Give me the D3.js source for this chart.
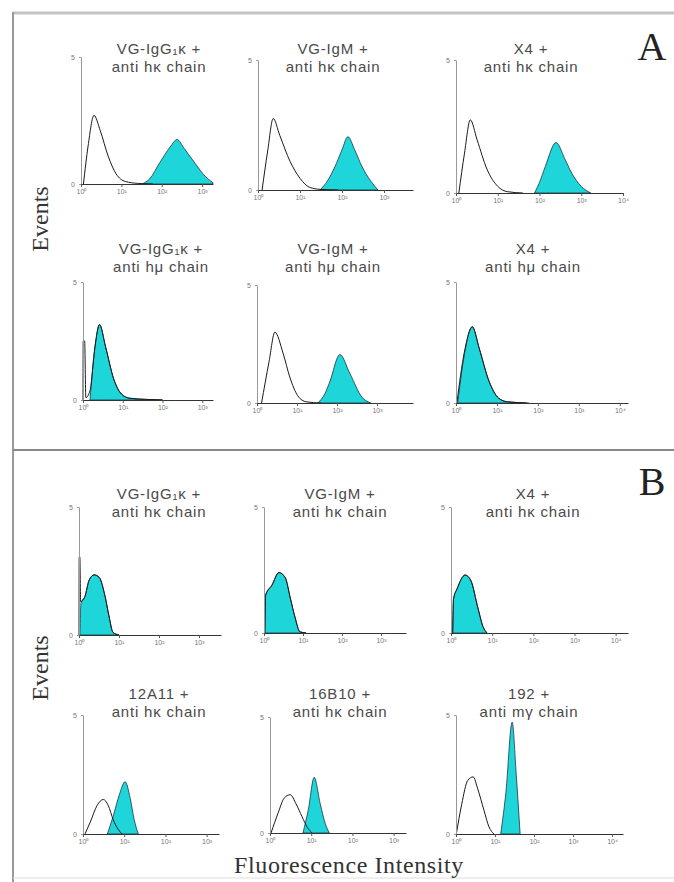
<!DOCTYPE html>
<html>
<head>
<meta charset="utf-8">
<title>Flow cytometry histograms</title>
<script src="https://cdn.jsdelivr.net/npm/d3@7"></script>
<style>
  body { margin: 0; background: #fff; }
</style>
</head>
<body>
<svg width="674" height="882" font-family="'Liberation Sans', Arial, sans-serif"></svg>
<script>
// ---- data ----
const titleLine1 = ["VG-IgG₁κ +", "VG-IgM +", "X4 +",
                    "VG-IgG₁κ +", "VG-IgM +", "X4 +",
                    "VG-IgG₁κ +", "VG-IgM +", "X4 +",
                    "12A11 +", "16B10 +", "192 +"];
const titleLine2 = ["anti hκ chain", "anti hκ chain", "anti hκ chain",
                    "anti hμ chain", "anti hμ chain", "anti hμ chain",
                    "anti hκ chain", "anti hκ chain", "anti hκ chain",
                    "anti hκ chain", "anti hκ chain", "anti mγ chain"];
const decades = [1, 10, 100, 1000, 10000];
const tickLabels = ["10⁰", "10¹", "10²", "10³", "10⁴"];
const tickCount = [4, 4, 5, 4, 4, 5, 4, 4, 5, 4, 4, 5];
const xMaxExp = [3.27, 3.69, 4.0, 3.27, 3.9, 4.2, 3.55, 3.64, 4.3, 3.3, 3.3, 4.28];
const yTickLabels = ["0", "5"];

// [intensity, events (% of full scale)]
const a1Open = [[1.15,0],[1.5,30],[2.1,54],[3,42],[4.7,22],[7.4,8],[12.5,2],[25,0.5],[60,0]];
const a1Stained = [[33,0],[50,4],[90,17],[160,29],[240,35],[360,28],[680,16],[1200,6],[1860,1]];
const a2Open = [[1.25,0],[1.7,30],[2.3,55],[3.3,42],[5.8,22],[10,9],[17,2],[30,0.5],[80,0]];
const a2Stained = [[30,0],[45,7],[68,18],[100,31],[138,41],[200,31],[300,18],[480,7],[720,0]];
const a3Open = [[1.17,0],[1.6,30],[2.2,55],[3.2,40],[5.5,18],[10,5],[17,1],[40,0]];
const a3Stained = [[76,0],[100,8],[138,20],[250,38],[400,26],[590,15],[1000,5],[1700,0]];
const a4Open = [[1,0],[1.01,50],[1.1,50],[1.18,2],[1.5,8],[2,45],[2.6,64],[3.7,45],[5.9,18],[9.3,5],[15,1.5],[40,0.5],[100,0]];
const a4Stained = [[1.5,0],[2,45],[2.6,64],[3.7,45],[5.9,18],[9.3,5],[15,1.5],[40,0.5],[100,0]];
const a5Open = [[1.3,0],[2,35],[2.8,60],[4.5,42],[6.6,22],[10.5,6],[17,1],[40,0]];
const a5Stained = [[33,0],[50,8],[66,18],[118,41],[210,25],[420,5],[700,0]];
const a6Open = [[1.05,0],[1.6,42],[2.5,63],[3.7,45],[6.4,18],[11,4],[18,1],[60,0]];
const a6Stained = [[1.1,0],[1.6,40],[2.5,63],[3.7,45],[6.4,18],[11,4],[18,1],[50,0]];
const b1Open = [[1,0],[1.01,61],[1.05,61],[1.1,26],[1.4,30],[1.8,43],[2.4,47],[3.2,45],[4.5,30],[5.6,15],[7.1,2],[10,0]];
const b1Stained = [[1.05,0],[1.12,25],[1.4,30],[1.8,43],[2.4,47],[3.2,45],[4.5,30],[5.6,15],[7.1,2],[10,0]];
const b2Open = [[1.05,0],[1.1,30],[1.6,38],[2.4,48],[3.5,44],[4.7,28],[6.3,12],[8.3,1],[12,0]];
const b2Stained = [[1.05,0],[1.1,30],[1.6,38],[2.4,48],[3.5,44],[4.7,28],[6.3,12],[8.3,1],[12,0]];
const b3Open = [[1.1,0],[1.15,27],[1.4,35],[2.2,46],[3,42],[4.5,20],[6,5],[7.5,0]];
const b3Stained = [[1.1,0],[1.15,27],[1.4,35],[2.2,46],[3,42],[4.5,20],[6,5],[7.5,0]];
const b4Open = [[1.12,0],[1.5,10],[2.2,24],[3.1,29],[4.1,24],[5.4,12],[7.1,4],[8.9,0]];
const b4Stained = [[3.9,0],[5.4,15],[7.6,33],[10.5,44],[14,30],[17.5,12],[22,0]];
const b5Open = [[1.06,0],[1.6,18],[2.2,30],[3.1,33],[4.3,25],[6,14],[8,5],[10.5,0]];
const b5Stained = [[6.3,0],[8.5,20],[11.8,48],[16.6,25],[22,8],[27.5,0]];
const b6Open = [[1.02,0],[1.4,25],[2,45],[2.75,48],[3.6,38],[5.2,20],[7,6],[9.4,0]];
const b6Stained = [[14,0],[19,35],[27.5,94],[35,50],[44,0]];

const openCurves = [a1Open, a2Open, a3Open, a4Open, a5Open, a6Open, b1Open, b2Open, b3Open, b4Open, b5Open, b6Open];
const stainedCurves = [a1Stained, a2Stained, a3Stained, a4Stained, a5Stained, a6Stained, b1Stained, b2Stained, b3Stained, b4Stained, b5Stained, b6Stained];

// ---- layout ----
const layout = [
  {x0: 81,  x1: 213, top: 57,  base: 184, tx: 159, ty: 54},
  {x0: 258, x1: 413, top: 60,  base: 190, tx: 333, ty: 54},
  {x0: 456, x1: 623, top: 60,  base: 193, tx: 531, ty: 54},
  {x0: 83,  x1: 213, top: 282, base: 400, tx: 161, ty: 254},
  {x0: 257, x1: 413, top: 285, base: 403, tx: 333, ty: 254},
  {x0: 456, x1: 628, top: 282, base: 403, tx: 533, ty: 254},
  {x0: 79,  x1: 221, top: 507, base: 635, tx: 159, ty: 499},
  {x0: 264, x1: 406, top: 507, base: 633, tx: 340, ty: 499},
  {x0: 451, x1: 628, top: 507, base: 633, tx: 533, ty: 499},
  {x0: 83,  x1: 219, top: 715, base: 834, tx: 159, ty: 699},
  {x0: 270, x1: 406, top: 717, base: 833, tx: 340, ty: 699},
  {x0: 456, x1: 623, top: 715, base: 834, tx: 529, ty: 699}
];
const cyan = "#1ed5d9";

const svg = d3.select("svg");

// frame
svg.append("line").attr("x1", 13).attr("y1", 13).attr("x2", 674).attr("y2", 13)
  .attr("stroke", "#c4c4c4").attr("stroke-width", 3);
svg.append("line").attr("x1", 13).attr("y1", 12).attr("x2", 13).attr("y2", 882)
  .attr("stroke", "#999").attr("stroke-width", 2);
svg.append("line").attr("x1", 13).attr("y1", 450).attr("x2", 674).attr("y2", 450)
  .attr("stroke", "#888").attr("stroke-width", 2);
svg.append("line").attr("x1", 13).attr("y1", 878).attr("x2", 674).attr("y2", 878)
  .attr("stroke", "#ddd").attr("stroke-width", 1);

layout.forEach((L, i) => {
  const x = d3.scaleLog().domain([1, Math.pow(10, xMaxExp[i])]).range([L.x0, L.x1]);
  const y = d3.scaleLinear().domain([0, 100]).range([L.base, L.top]);
  const g = svg.append("g");

  const area = d3.area().x(d => x(d[0])).y0(y(0)).y1(d => y(d[1])).curve(d3.curveMonotoneX);
  const line = d3.line().x(d => x(d[0])).y(d => y(d[1])).curve(d3.curveMonotoneX);

  g.append("path").datum(stainedCurves[i]).attr("d", area)
    .attr("fill", cyan).attr("stroke", "#123").attr("stroke-width", 0.9).attr("stroke-opacity", 0.8);
  g.append("path").datum(openCurves[i]).attr("d", line)
    .attr("fill", "none").attr("stroke", "#1a1a1a").attr("stroke-width", 1);

  // y axis
  const ya = d3.axisLeft(y).tickValues([0, 100]).tickFormat((d, j) => yTickLabels[j])
    .tickSize(2).tickSizeOuter(0);
  const yg = g.append("g").attr("transform", `translate(${L.x0},0)`).call(ya);
  yg.attr("font-family", null);
  yg.select(".domain").attr("stroke", "#999");
  yg.selectAll(".tick line").attr("stroke", "#999");
  yg.selectAll("text").attr("font-size", 7).attr("fill", "#777").attr("dx", -1);

  // x axis
  const xa = d3.axisBottom(x).tickValues(decades.slice(0, tickCount[i]))
    .tickFormat((d, j) => tickLabels[j]).tickSize(3).tickSizeOuter(0);
  const xg = g.append("g").attr("transform", `translate(0,${L.base})`).call(xa);
  xg.attr("font-family", null);
  xg.select(".domain").attr("stroke", "#333");
  xg.selectAll(".tick line").attr("stroke", "#555");
  xg.selectAll("text").attr("font-size", 7).attr("fill", "#777").attr("dy", "0.5em");

  // title
  g.append("text").attr("x", L.tx).attr("y", L.ty).attr("text-anchor", "middle")
    .attr("font-size", 15).attr("letter-spacing", 0.8).attr("fill", "#4a4a4a").text(titleLine1[i]);
  g.append("text").attr("x", L.tx).attr("y", L.ty + 18).attr("text-anchor", "middle")
    .attr("font-size", 15).attr("letter-spacing", 0.8).attr("fill", "#4a4a4a").text(titleLine2[i]);
});

// panel letters and axis titles
const serif = "'Liberation Serif', 'Times New Roman', serif";
svg.append("text").attr("x", 652).attr("y", 60).attr("text-anchor", "middle")
  .attr("font-family", serif).attr("font-size", 40).attr("fill", "#222").text("A");
svg.append("text").attr("x", 652).attr("y", 495).attr("text-anchor", "middle")
  .attr("font-family", serif).attr("font-size", 40).attr("fill", "#222").text("B");

[219, 668].forEach(cy => {
  svg.append("text").attr("transform", `translate(48,${cy}) rotate(-90)`)
    .attr("text-anchor", "middle").attr("font-family", serif).attr("font-size", 24)
    .attr("fill", "#333").text("Events");
});
svg.append("text").attr("x", 349).attr("y", 873).attr("text-anchor", "middle")
  .attr("font-family", serif).attr("font-size", 24).attr("letter-spacing", 0.6)
  .attr("fill", "#333").text("Fluorescence Intensity");
</script>
</body>
</html>
